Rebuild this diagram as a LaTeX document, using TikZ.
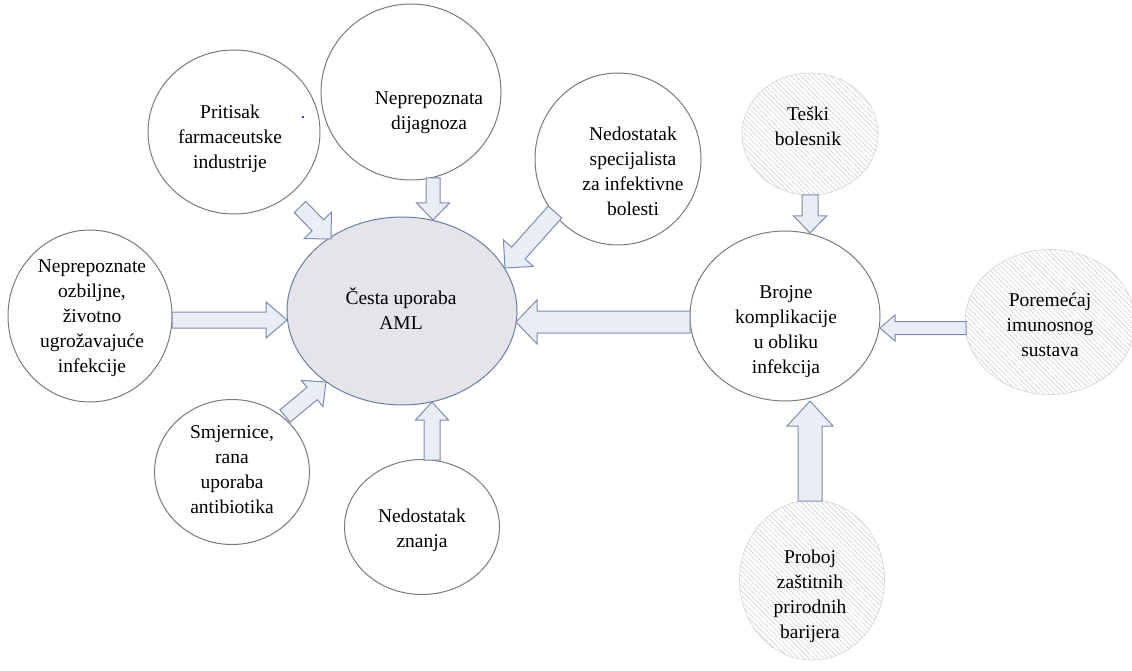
\documentclass[tikz,border=0pt]{standalone}
\usepackage{fontspec}
\setmainfont{Liberation Serif}
\usetikzlibrary{shapes.geometric,patterns.meta,calc}
\definecolor{ebord}{HTML}{7A7A7A}
\definecolor{cfill}{HTML}{E4E4EA}
\definecolor{cbord}{HTML}{6A7EA0}
\definecolor{afill}{HTML}{E8EDF6}
\definecolor{abord}{HTML}{7D8DAB}
\definecolor{hatchc}{HTML}{D4D4D4}
\tikzset{
  bub/.style={ellipse, draw=ebord, line width=1pt, fill=white, inner sep=0pt},
  hat/.style={ellipse, draw=hatchc, line width=0.6pt, inner sep=0pt, preaction={fill=white},
    pattern={Lines[angle=-45,distance=3.5pt,line width=0.6pt]}, pattern color=hatchc},
  txt/.style={align=center, inner sep=0pt, font=\fontsize{19.5}{25}\selectfont},
  barrow/.style={draw=abord, fill=afill, line width=1pt, line join=miter},
}
% block arrow: start, tip, shaft half width, head half width, head length
\newcommand\blk[5]{%
  \coordinate (bkh) at ($(#2)!#5pt!(#1)$);
  \path[barrow] ($(#1)!#3pt!90:(#2)$) -- ($(bkh)!#3pt!90:(#2)$) -- ($(bkh)!#4pt!90:(#2)$)
    -- (#2) -- ($(bkh)!#4pt!-90:(#2)$) -- ($(bkh)!#3pt!-90:(#2)$) -- ($(#1)!#3pt!-90:(#2)$) -- cycle;
}
\begin{document}
\begin{tikzpicture}[x=1pt,y=-1pt]
\useasboundingbox (0,0) rectangle (1132,671);
% ellipses
\node[bub, fill=cfill, draw=cbord, minimum width=230pt, minimum height=188pt] (cen) at (402,311) {};
\node[bub, minimum width=180pt, minimum height=176pt] (dij) at (411,92) {};
\node[bub, minimum width=172pt, minimum height=164pt] (prit) at (234,132) {};
\node[bub, minimum width=166pt, minimum height=172pt] (spec) at (618,159) {};
\node[bub, minimum width=164pt, minimum height=172pt] (nep) at (90,316) {};
\node[bub, minimum width=155pt, minimum height=145pt] (smj) at (232,472) {};
\node[bub, minimum width=155pt, minimum height=135pt] (zna) at (422,527) {};
\node[bub, minimum width=190pt, minimum height=170pt] (broj) at (785,316) {};
\node[hat, minimum width=136pt, minimum height=122pt] (tes) at (810,134) {};
\node[hat, minimum width=170pt, minimum height=145pt] (por) at (1050,322) {};
\node[hat, minimum width=145pt, minimum height=160pt] (pro) at (812,580) {};
% texts
\node[txt] (cenT) at (401,309) {Česta uporaba\\AML};
\node[txt] (pritT) at (230,139) {Pritisak\\farmaceutske\\industrije};
\node[txt] (dijT) at (429,113) {Neprepoznata\\dijagnoza};
\node[txt] (specT) at (633,171) {Nedostatak\\specijalista\\za infektivne\\bolesti};
\node[txt] (nepT) at (92,318) {Neprepoznate\\ozbiljne,\\životno\\ugrožavajuće\\infekcije};
\node[txt] (smjT) at (232,470) {Smjernice,\\rana\\uporaba\\antibiotika};
\node[txt] (znaT) at (422,530) {Nedostatak\\znanja};
\node[txt] (brojT) at (786,332) {Brojne\\komplikacije\\u obliku\\infekcija};
\node[txt] (tesT) at (808,126) {Teški\\bolesnik};
\node[txt] (porT) at (1050,325) {Poremećaj\\imunosnog\\sustava};
\node[txt] (proT) at (810,596) {Proboj\\zaštitnih\\prirodnih\\barijera};
\fill[blue!70!black] (303,117) circle (1.1pt);
% arrow end points
\coordinate (a1s) at (300,207); \coordinate (a1e) at (331,239);
\coordinate (a2s) at (433,178); \coordinate (a2e) at (433,220);
\coordinate (a3s) at (555,212); \coordinate (a3e) at (505,268);
\coordinate (a4s) at (172,320); \coordinate (a4e) at (287,320);
\coordinate (a5s) at (285,416); \coordinate (a5e) at (326,382);
\coordinate (a6s) at (432,460); \coordinate (a6e) at (432,402);
\coordinate (a7s) at (690,322); \coordinate (a7e) at (516,322);
\coordinate (a8s) at (810,195); \coordinate (a8e) at (810,233);
\coordinate (a9s) at (966,328); \coordinate (a9e) at (880,328);
\coordinate (a10s) at (810,501); \coordinate (a10e) at (810,401);
\blk{a1s}{a1e}{8}{19}{19}
\blk{a2s}{a2e}{7}{16.5}{17}
\blk{a3s}{a3e}{9}{20}{20}
\blk{a4s}{a4e}{8}{18}{21}
\blk{a5s}{a5e}{8}{17}{18}
\blk{a6s}{a6e}{8}{16.5}{18}
\blk{a7s}{a7e}{11}{22}{21}
\blk{a8s}{a8e}{8}{16.5}{17}
\blk{a9s}{a9e}{6.5}{13}{15}
\blk{a10s}{a10e}{12}{23}{25}
\end{tikzpicture}
\end{document}
